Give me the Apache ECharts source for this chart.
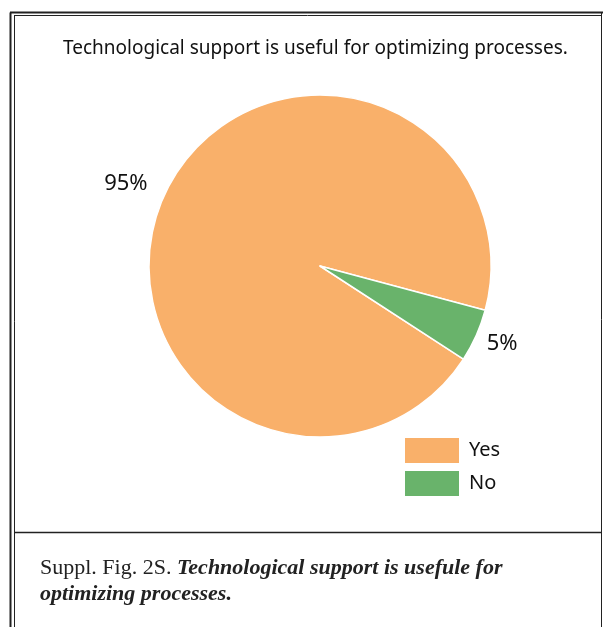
<!DOCTYPE html>
<html><head><meta charset="utf-8">
<script src="https://cdn.jsdelivr.net/npm/echarts@6/dist/echarts.min.js"></script>
<style>html,body{margin:0;padding:0;background:#fff}#c{width:605px;height:627px}</style>
</head><body><div id="c"></div>
<script>
const categories = ['Yes', 'No'];
const values = [95, 5];
const colors = ['#F9B06A', '#69B36B'];
const chartTitle = 'Technological support is useful for optimizing processes.';
const captionLead = 'Suppl. Fig. 2S. ';
const captionLine1 = 'Technological support is usefule for';
const captionLine2 = 'optimizing processes.';

const chart = echarts.init(document.getElementById('c'), null, {renderer: 'canvas'});
const lineStyle = {stroke: '#222', lineWidth: 1};
const labelTweaks = [
  {labelLine: {length: 10, length2: 2}, label: {formatter: '{v|{d}%}\n{e2|}'}},
  {labelLine: {length: 6, length2: 0}, label: {formatter: '{e|}\n{v|{d}%}'}}
];
chart.setOption({
  animation: false,
  title: [{
    text: chartTitle, left: 58, top: 34,
    textStyle: {fontFamily: 'Noto Sans', fontSize: 19, fontWeight: 'normal', color: '#111'}
  }, {
    text: '{n|' + captionLead + '}{b|' + captionLine1 + '}\n{b|' + captionLine2 + '}',
    left: 35, top: 550,
    textStyle: {
      fontWeight: 'normal',
      rich: {
        n: {fontFamily: 'Liberation Serif', fontSize: 22, fontWeight: 'normal', fontStyle: 'normal', color: '#222', lineHeight: 26},
        b: {fontFamily: 'Liberation Serif', fontSize: 22, fontStyle: 'italic', fontWeight: 'bold', color: '#222', lineHeight: 26}
      }
    }
  }],
  legend: {
    data: categories, orient: 'vertical', left: 398, top: 431,
    itemWidth: 56, itemHeight: 27, itemGap: 4,
    icon: 'rect',
    textStyle: {fontFamily: 'Noto Sans', fontSize: 20, color: '#111', padding: [0, 0, 0, 4]}
  },
  series: [{
    type: 'pie',
    center: [320, 266], radius: 171,
    startAngle: -33,
    clockwise: true,
    data: categories.map((c, i) => Object.assign({name: c, value: values[i], itemStyle: {color: colors[i]}}, labelTweaks[i])),
    itemStyle: {borderColor: '#fff', borderWidth: 1.5},
    label: {
      show: true, position: 'outside',
      rich: {
        v: {fontFamily: 'Noto Sans', fontSize: 22, color: '#111', lineHeight: 26},
        e: {fontSize: 10, lineHeight: 12},
        e2: {fontSize: 10, lineHeight: 18}
      }
    },
    labelLine: {show: false},
    emphasis: {disabled: true}
  }],
  graphic: [
    {type: 'line', shape: {x1: 10.5, y1: 12.5, x2: 10.5, y2: 627}, style: {stroke: '#222', lineWidth: 2}},
    {type: 'line', shape: {x1: 14.5, y1: 15.5, x2: 14.5, y2: 627}, style: lineStyle},
    {type: 'line', shape: {x1: 10, y1: 12.5, x2: 603, y2: 12.5}, style: {stroke: '#222', lineWidth: 2}},
    {type: 'line', shape: {x1: 14, y1: 15.5, x2: 601, y2: 15.5}, style: lineStyle},
    {type: 'line', shape: {x1: 601.5, y1: 12, x2: 601.5, y2: 627}, style: lineStyle},
    {type: 'line', shape: {x1: 14, y1: 532.5, x2: 601, y2: 532.5}, style: {stroke: '#222', lineWidth: 1.5}}
  ]
});
</script></body></html>
